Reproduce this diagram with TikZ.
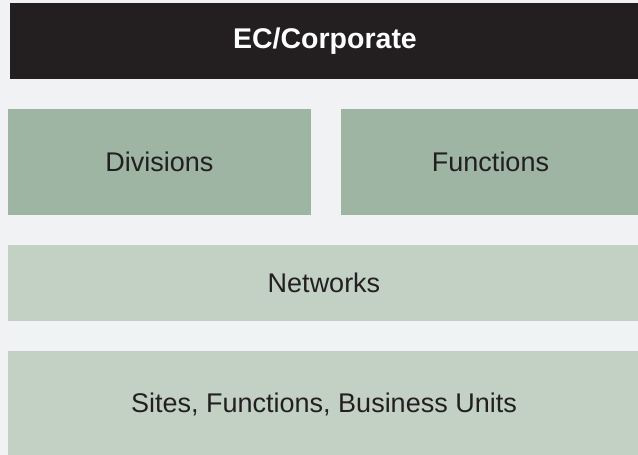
\documentclass[tikz,border=0pt]{standalone}
\usepackage{fontspec}
\setmainfont{Liberation Sans}
\usetikzlibrary{positioning}

\definecolor{pagebg}{HTML}{F1F2F4}
\definecolor{corpblack}{HTML}{231F20}
\definecolor{darksage}{HTML}{9DB5A2}
\definecolor{lightsage}{HTML}{C2D1C4}

\begin{document}
\begin{tikzpicture}[x=1pt, y=1pt,
    tier/.style={inner sep=0pt, outer sep=0pt, text=corpblack,
        font=\fontsize{27}{32}\selectfont},
    upper/.style={tier, fill=darksage, minimum height=106pt},
    lower/.style={tier, fill=lightsage, minimum width=632pt}]
    % Page background
    \fill[pagebg] (0, 0) rectangle (638, 455);
    \useasboundingbox (0, 0) rectangle (638, 455);

    % Top level
    \node[tier, fill=corpblack, text=white, minimum width=630pt, minimum height=76pt,
        font=\fontsize{28.5}{33}\selectfont\bfseries] (ec) at (325, 414) {EC/Corporate};

    % Second level side by side
    \node[upper, minimum width=303pt] (div) at (159.5, 293) {Divisions};
    \node[upper, minimum width=299pt] (fun) at (490.5, 293) {Functions};

    % Lower levels
    \node[lower, minimum height=76pt] (net) at (324, 172) {Networks};
    \node[lower, minimum height=106pt] (sites) at (324, 51) {Sites, Functions, Business Units};
\end{tikzpicture}
\end{document}
